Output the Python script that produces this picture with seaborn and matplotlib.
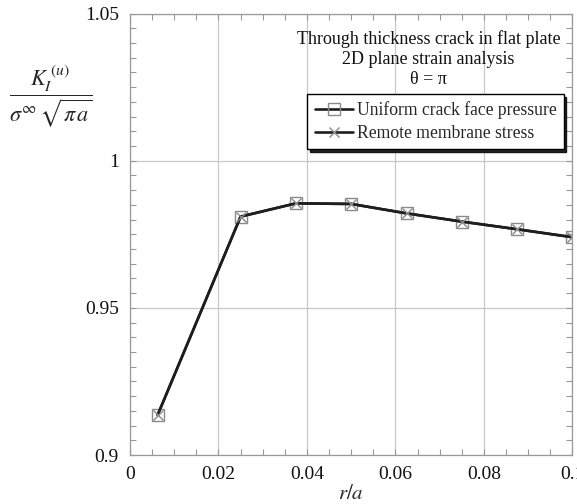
import matplotlib
matplotlib.use("Agg")
import matplotlib.pyplot as plt
import seaborn as sns
import pandas as pd
from matplotlib.ticker import MultipleLocator

r_over_a = [0.00625, 0.025, 0.0375, 0.05, 0.0625, 0.075, 0.0875, 0.1]
k_uniform = [0.9136, 0.9810, 0.9855, 0.9853, 0.9821, 0.9793, 0.9767, 0.9740]
k_remote = [0.9136, 0.9810, 0.9855, 0.9853, 0.9821, 0.9793, 0.9767, 0.9740]
series_names = ["Uniform crack face pressure", "Remote membrane stress"]
x_ticks = [0, 0.02, 0.04, 0.06, 0.08, 0.1]
x_tick_labels = ["0", "0.02", "0.04", "0.06", "0.08", "0.1"]
y_ticks = [0.9, 0.95, 1.0, 1.05]
y_tick_labels = ["0.9", "0.95", "1", "1.05"]

sns.set_theme(style="white")
plt.rcParams['font.family'] = ['Liberation Serif', 'DejaVu Serif']
plt.rcParams['mathtext.fontset'] = 'stix'

df = pd.concat([
    pd.DataFrame({"x": r_over_a, "y": k_uniform, "s": series_names[0]}),
    pd.DataFrame({"x": r_over_a, "y": k_remote, "s": series_names[1]}),
])

fig = plt.figure(figsize=(5.77, 5.04), dpi=100)
ax = fig.add_axes([0.2253, 0.0972, 0.7669, 0.876])

sns.lineplot(data=df[df.s == series_names[0]], x="x", y="y", ax=ax, color="#1e1e1e",
             lw=1.9, marker="s", markersize=8, markerfacecolor="none",
             markeredgecolor="#8a8a8a", markeredgewidth=1.0, label=series_names[0])
sns.lineplot(data=df[df.s == series_names[1]], x="x", y="y", ax=ax, color="#1e1e1e",
             lw=1.9, marker="x", markersize=7, markeredgecolor="#8a8a8a",
             markeredgewidth=1.0, label=series_names[1])

ax.set_xlim(0, 0.1)
ax.set_ylim(0.9, 1.05)
ax.set_xticks(x_ticks)
ax.set_xticklabels(x_tick_labels)
ax.set_yticks(y_ticks)
ax.set_yticklabels(y_tick_labels)
ax.xaxis.set_minor_locator(MultipleLocator(0.005))
ax.yaxis.set_minor_locator(MultipleLocator(0.005))
ax.tick_params(which="both", direction="in", top=True, right=True, bottom=True, left=True,
               color="#999999", labelsize=14, labelcolor="#111111")
ax.tick_params(which="major", length=4, width=0.8, pad=8)
ax.tick_params(which="minor", length=4, width=0.8)
ax.grid(True, which="major", color="#c8c8c8", lw=0.9)
for sp in ax.spines.values():
    sp.set_color("#999999")
    sp.set_linewidth(0.9)

ax.set_xlabel("$r/a$", fontsize=15, labelpad=1)
ax.set_ylabel("")
fig.text(0.088, 0.808, r"$\dfrac{K_I^{\;(u)}}{\sigma^{\infty}\,\sqrt{\pi\, a}}$",
         fontsize=16, ha="center", va="center")

ax.text(0.675, 0.962, "Through thickness crack in flat plate\n2D plane strain analysis\n\u03b8 = \u03c0",
        transform=ax.transAxes, ha="center", va="top", fontsize=13, linespacing=1.22,
        color="#111111")

leg = ax.legend(loc="upper right", bbox_to_anchor=(0.988, 0.825), fontsize=12.7,
                frameon=True, fancybox=False,
                shadow={"color": "black", "alpha": 0.85},
                handlelength=2.2, borderpad=0.4, labelspacing=0.35,
                handletextpad=0.2, borderaxespad=0.2)
leg.get_frame().set_edgecolor("black")
leg.get_frame().set_linewidth(1.0)

fig.savefig("out.png", dpi=100)
